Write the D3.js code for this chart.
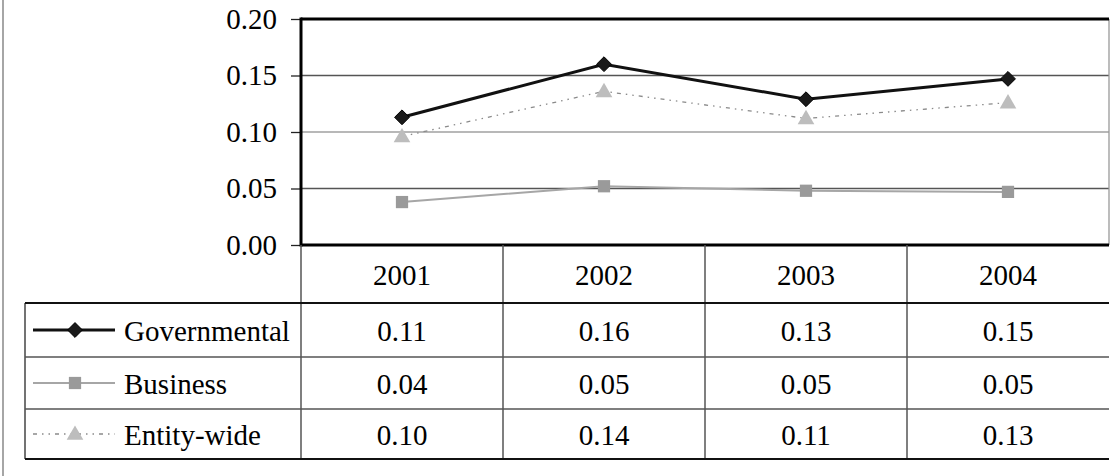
<!DOCTYPE html>
<html><head><meta charset="utf-8">
<script src="https://cdn.jsdelivr.net/npm/d3@7"></script>
<style>body{margin:0;background:#fff}svg{display:block}
svg text{font-family:"Liberation Serif",Tinos,"Times New Roman","Nimbus Roman","DejaVu Serif",serif !important}</style>
</head><body><svg id="c" width="1110" height="476"></svg>
<script>
const years = ["2001","2002","2003","2004"];
const seriesNames = ["Governmental","Business","Entity-wide"];
const governmental = [0.113, 0.160, 0.129, 0.147];
const business = [0.038, 0.052, 0.048, 0.047];
const entityWide = [0.096, 0.136, 0.112, 0.126];
const yTicks = [0, 0.05, 0.10, 0.15, 0.20];

const series = [
  {name: seriesNames[0], values: governmental, stroke: "#111", width: 3, dash: null, marker: "diamond", fill: "#1a1a1a"},
  {name: seriesNames[1], values: business, stroke: "#a6a6a6", width: 2, dash: null, marker: "square", fill: "#9a9a9a"},
  {name: seriesNames[2], values: entityWide, stroke: "#8a8a8a", width: 1.3, dash: "4,5,1.5,5,1.5,5", marker: "triangle", fill: "#bdbdbd"}
];

const svg = d3.select("#c");
const L = 301, R = 1109, T = 19, B = 245;
const rowEdges = [303, 357, 409, 459];
const tableLeft = 25;
const fs = 29;
const FF = "'Liberation Serif', Tinos, 'Times New Roman', 'DejaVu Serif', serif";

const x = d3.scaleBand().domain(years).range([L, R]);
const y = d3.scaleLinear().domain([0, 0.2]).range([B, T]);

svg.append("line").attr("x1",3).attr("x2",3).attr("y1",0).attr("y2",476).attr("stroke","#888").attr("stroke-width",1.5);

svg.append("g").selectAll("line").data(yTicks.filter(d => d > 0 && d < 0.2)).join("line")
  .attr("x1", L).attr("x2", R).attr("y1", d => y(d)).attr("y2", d => y(d))
  .attr("stroke", d => Math.abs(d - 0.10) < 1e-9 ? "#a0a0a0" : "#555").attr("stroke-width", 1.3);

svg.append("line").attr("x1",R).attr("x2",R).attr("y1",T).attr("y2",B).attr("stroke","#999").attr("stroke-width",1.3);

const yAxis = d3.axisLeft(y).tickValues(yTicks).tickFormat(d3.format(".2f")).tickSize(10).tickPadding(14);
const ya = svg.append("g").attr("transform", `translate(${L},0)`).call(yAxis).attr("font-family", FF).attr("font-size", fs);
ya.select(".domain").remove();
ya.selectAll(".tick line").attr("stroke","#222").attr("stroke-width",1.3);
ya.selectAll(".tick text").attr("fill","#000").style("font-family", FF).style("font-size", fs + "px");

svg.append("line").attr("x1",L).attr("x2",L).attr("y1",T-1.5).attr("y2",B+1.5).attr("stroke","#000").attr("stroke-width",3);
svg.append("line").attr("x1",L).attr("x2",R).attr("y1",T).attr("y2",T).attr("stroke","#000").attr("stroke-width",3);
svg.append("line").attr("x1",L).attr("x2",R).attr("y1",B).attr("y2",B).attr("stroke","#000").attr("stroke-width",3);

const colEdges = [L, ...years.slice(1).map(d => x(d))];
svg.append("g").selectAll("line").data(colEdges).join("line")
  .attr("x1", d => d).attr("x2", d => d).attr("y1", B).attr("y2", rowEdges[3])
  .attr("stroke", "#555").attr("stroke-width", 1.5);
svg.append("line").attr("x1",tableLeft).attr("x2",tableLeft).attr("y1",rowEdges[0]).attr("y2",rowEdges[3]).attr("stroke","#444").attr("stroke-width",1.5);
svg.append("g").selectAll("line").data(rowEdges).join("line")
  .attr("x1", tableLeft).attr("x2", R).attr("y1", d => d).attr("y2", d => d)
  .attr("stroke", (d,i) => (i===0||i===3) ? "#111" : "#555").attr("stroke-width", (d,i) => (i===0||i===3) ? 2 : 1.5);

svg.append("g").selectAll("text").data(years).join("text")
  .attr("x", d => x(d) + x.bandwidth()/2).attr("y", (B + rowEdges[0]) / 2 + 1)
  .attr("text-anchor","middle").attr("dominant-baseline","central")
  .style("font-family", FF).style("font-size", fs + "px").text(d => d);

function markerPath(type) {
  if (type === "diamond") return d3.symbol().type(d3.symbolDiamond2).size(140)();
  if (type === "square") return d3.symbol().type(d3.symbolSquare).size(150)();
  return d3.symbol().type(d3.symbolTriangle).size(120)();
}

const line = d3.line().x((d,i) => x(years[i]) + x.bandwidth()/2).y(d => y(d));
[1,2,0].forEach(k => {
  const s = series[k];
  svg.append("path").datum(s.values).attr("d", line).attr("fill","none")
    .attr("stroke", s.stroke).attr("stroke-width", s.width).attr("stroke-dasharray", s.dash);
  svg.append("g").selectAll("path").data(s.values).join("path")
    .attr("transform", (d,i) => `translate(${x(years[i]) + x.bandwidth()/2},${y(d) + (s.marker==="triangle"?1:0)})`)
    .attr("d", markerPath(s.marker)).attr("fill", s.fill)
    .attr("stroke", s.marker==="diamond" ? "#000" : "none").attr("stroke-width", 1);
});

series.forEach((s, r) => {
  const cy = (rowEdges[r] + rowEdges[r+1]) / 2;
  const g = svg.append("g");
  g.append("line").attr("x1",33).attr("x2",115).attr("y1",cy).attr("y2",cy)
    .attr("stroke", s.stroke).attr("stroke-width", s.width).attr("stroke-dasharray", s.dash);
  g.append("path").attr("transform", `translate(75,${cy + (s.marker==="triangle"?1:0)})`).attr("d", markerPath(s.marker))
    .attr("fill", s.fill).attr("stroke", s.marker==="diamond" ? "#000" : "none");
  g.append("text").attr("x",124).attr("y",cy+1).attr("dominant-baseline","central")
    .style("font-family", FF).style("font-size", fs + "px").text(s.name);
  g.selectAll("text.v").data(s.values).join("text").attr("class","v")
    .attr("x", (d,i) => x(years[i]) + x.bandwidth()/2).attr("y", cy+1)
    .attr("text-anchor","middle").attr("dominant-baseline","central")
    .style("font-family", FF).style("font-size", fs + "px")
    .text(d => d3.format(".2f")(d));
});
</script></body></html>
